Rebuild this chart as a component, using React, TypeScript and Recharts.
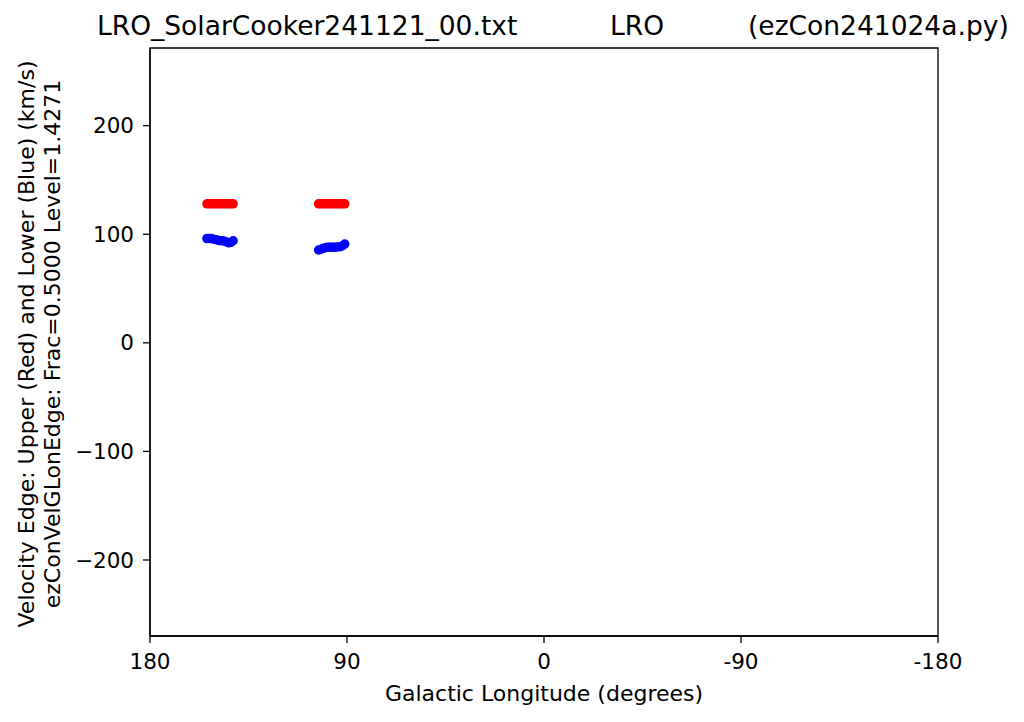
import React from "react";
import { ScatterChart, Scatter, XAxis, YAxis, ReferenceArea } from "recharts";

// galactic longitudes (deg) of the two scans
const lonsA = [154, 153, 152, 151, 150, 149, 148, 147, 146, 145, 144, 143, 142];
const lonsB = [103, 102, 101, 100, 99, 98, 97, 96, 95, 94, 93, 92, 91];

// upper velocity edge (red), km/s
const upperA = [128, 128, 128, 128, 128, 128, 128, 128, 128, 128, 128, 128, 128];
const upperB = [128, 128, 128, 128, 128, 128, 128, 128, 128, 128, 128, 128, 128];

// lower velocity edge (blue), km/s
const lowerA = [96, 96, 96, 95.5, 95, 94.5, 94, 94, 93.5, 93, 92, 92.5, 94];
const lowerB = [85.5, 86, 87, 87.5, 88, 88, 88, 88, 88, 88.5, 88.5, 89.5, 91];

const xTicks = [180, 90, 0, -90, -180];
const yTicks = [-200, -100, 0, 100, 200];
const xDomain = [-180, 180];
const yDomain = [-270, 271.5];

const toPts = (lons: number[], vals: number[]) =>
  lons.map((lon, i) => ({ lon, vel: vals[i] }));

const upperData = [...toPts(lonsA, upperA), ...toPts(lonsB, upperB)];
const lowerData = [...toPts(lonsA, lowerA), ...toPts(lonsB, lowerB)];

const FONT = "'DejaVu Sans', sans-serif";
const tickStyle = { fontSize: 21.5, fill: "#000", fontFamily: FONT };
const black = { stroke: "#000", strokeWidth: 1.3 };

const dot = (color: string) => (p: any) =>
  <circle cx={p.cx} cy={p.cy} r={4.7} fill={color} />;

const yFmt = (v: number) => (v < 0 ? "\u2212" + Math.abs(v) : String(v));

export default function App() {
  return (
    <div style={{ position: "absolute", left: 0, top: 0, width: 1024, height: 722, background: "#fff" }}>
      <ScatterChart width={1024} height={722} margin={{ top: 48, right: 86, bottom: 0, left: 0 }}>
        <XAxis
          type="number"
          dataKey="lon"
          domain={xDomain}
          reversed
          ticks={xTicks}
          tickFormatter={(v) => String(v)}
          height={86}
          tickSize={7}
          tickMargin={11}
          axisLine={black}
          tickLine={black}
          tick={tickStyle}
          allowDataOverflow
        />
        <YAxis
          type="number"
          dataKey="vel"
          domain={yDomain}
          ticks={yTicks}
          tickFormatter={yFmt}
          width={150}
          tickSize={7}
          tickMargin={9}
          axisLine={black}
          tickLine={black}
          tick={tickStyle}
          allowDataOverflow
        />
        <ReferenceArea
          x1={xDomain[1]}
          x2={xDomain[0]}
          y1={yDomain[0]}
          y2={yDomain[1]}
          fill="none"
          fillOpacity={0}
          stroke="#000"
          strokeWidth={1.3}
          ifOverflow="visible"
        />
        <Scatter data={upperData} fill="#ff0000" shape={dot("#ff0000")} isAnimationActive={false} />
        <Scatter data={lowerData} fill="#0000ff" shape={dot("#0000ff")} isAnimationActive={false} />
      </ScatterChart>
      <svg width={1024} height={722} style={{ position: "absolute", left: 0, top: 0, pointerEvents: "none" }} fontFamily={FONT}>
        <text x={97} y={35} fontSize={26.5}>LRO_SolarCooker241121_00.txt</text>
        <text x={610} y={35} fontSize={26.5}>LRO</text>
        <text x={748} y={35} fontSize={26.5}>(ezCon241024a.py)</text>
        <text x={544} y={701} fontSize={22} textAnchor="middle">Galactic Longitude (degrees)</text>
        <text x={34} y={344} fontSize={22} textAnchor="middle" transform="rotate(-90 34 344)">
          Velocity Edge: Upper (Red) and Lower (Blue) (km/s)
        </text>
        <text x={60} y={344} fontSize={22} textAnchor="middle" transform="rotate(-90 60 344)">
          ezConVelGLonEdge: Frac=0.5000 Level=1.4271
        </text>
      </svg>
    </div>
  );
}
